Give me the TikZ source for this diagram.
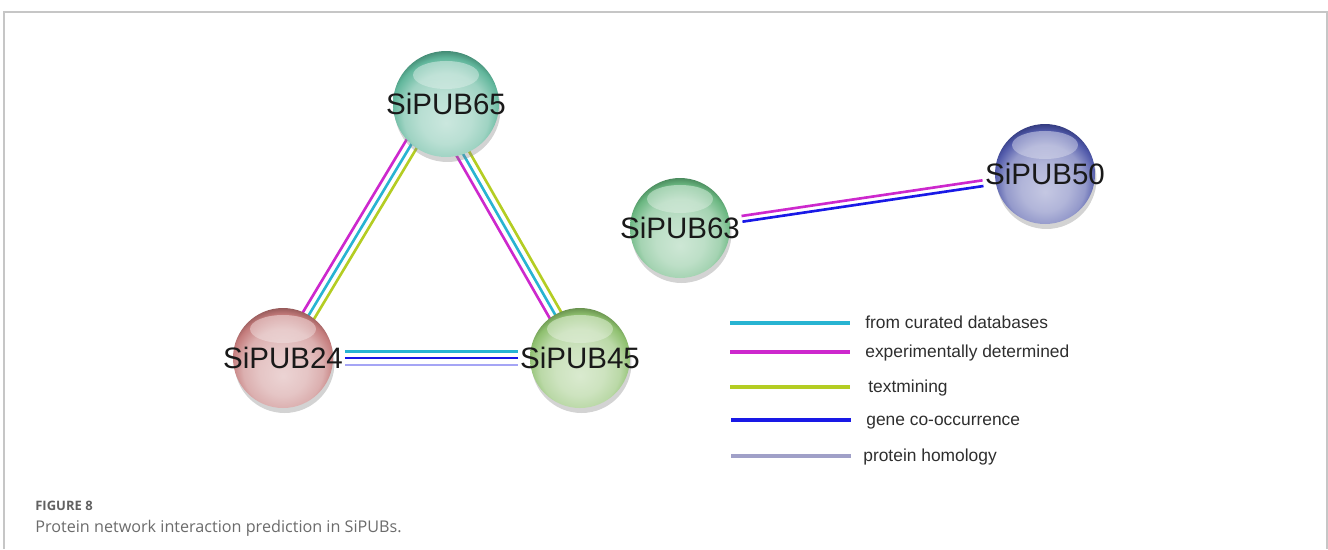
\documentclass[tikz,border=0pt]{standalone}
\usepackage{fontspec}
\setmainfont{Liberation Sans}
\newfontfamily\capfont{Open Sans}
\usetikzlibrary{positioning,shadows,fadings}

\definecolor{curcol}{RGB}{40,180,210}
\definecolor{expcol}{RGB}{205,40,205}
\definecolor{txtcol}{RGB}{180,205,35}
\definecolor{cocol}{RGB}{25,25,230}
\definecolor{homcol}{RGB}{160,160,200}
\definecolor{homedge}{RGB}{165,165,245}
\definecolor{framecol}{RGB}{198,198,198}
\definecolor{col65}{RGB}{80,175,145}
\definecolor{col24}{RGB}{190,110,110}
\definecolor{col45}{RGB}{130,185,95}
\definecolor{col63}{RGB}{90,175,115}
\definecolor{col50}{RGB}{60,70,160}

\makeatletter
\pgfdeclareradialshading[tikz@ball]{pubball}{\pgfqpoint{0bp}{-9bp}}{%
  color(0bp)=(tikz@ball!30!white);
  color(12bp)=(tikz@ball!40!white);
  color(20bp)=(tikz@ball!55!white);
  color(26bp)=(tikz@ball!90!white);
  color(30bp)=(tikz@ball!70!black);
  color(50bp)=(tikz@ball!50!black)}
\makeatother

\pgfdeclarelayer{bg}
\pgfsetlayers{bg,main}

\begin{document}
\begin{tikzpicture}[x=0.02cm, y=-0.02cm, sphere/.style={circle, minimum size=2cm, inner sep=0pt, ball color=#1, shading=pubball, drop shadow={shadow xshift=0.03cm, shadow yshift=-0.1cm, opacity=0.35}, path picture={\fill[white, path fading=south, fill opacity=0.45] ([yshift=0.58cm]path picture bounding box.center) ellipse [x radius=0.66cm, y radius=0.28cm];}}, prot/.style={inner sep=1pt, text=black!90, font=\fontsize{16.8}{18}\selectfont}, link/.style={line width=1.5pt}, legline/.style={line width=2.4pt}, legtext/.style={anchor=base west, inner sep=0pt, text=black!82, font=\fontsize{9.9}{12}\selectfont}, capt/.style={anchor=base west, inner sep=0pt, text=black!58}]

      \useasboundingbox (0,0) rectangle (1328,549);

      \draw[framecol, line width=0.9pt] (4,549) -- (4,12) -- (1327,12) -- (1327,549);

      \node [sphere=col65, minimum size=2.12cm] (s65) at (446,104) {};

      \node [sphere=col24] (s24) at (283,358) {};

      \node [sphere=col45] (s45) at (580,358) {};

      \node [sphere=col63] (s63) at (680,228) {};

      \node [sphere=col50] (s50) at (1045,174) {};

      \node [prot] (l65) at (s65) {SiPUB65};

      \node [prot] (l24) at (s24) {SiPUB24};

      \node [prot] (l45) at (s45) {SiPUB45};

      \node [prot] (l63) at (s63.center) {SiPUB63};

      \node [prot] (l50) at (s50.center) {SiPUB50};

      \coordinate (h65) at (435,105);

      \begin{pgfonlayer}{bg}
        \draw[link, expcol, transform canvas={shift={(-5.6,-3.3)}}] (h65) -- (l24);
        \draw[link, curcol] (h65) -- (l24);
        \draw[link, txtcol, transform canvas={shift={(5.6,3.3)}}] (h65) -- (l24);

        \draw[link, expcol, transform canvas={shift={(-5.6,3.3)}}] (h65) -- (l45);
        \draw[link, curcol] (h65) -- (l45);
        \draw[link, txtcol, transform canvas={shift={(5.6,-3.3)}}] (h65) -- (l45);

        \draw[link, curcol, transform canvas={shift={(0,-6.5)}}] (l24) -- (l45);
        \draw[link, cocol] (l24) -- (l45);
        \draw[link, homedge, transform canvas={shift={(0,7)}}] (l24) -- (l45);

        \draw[link, expcol, transform canvas={shift={(-0.45,-2.85)}}] (l63) -- (l50);
        \draw[link, cocol, transform canvas={shift={(0.45,2.85)}}] (l63) -- (l50);
      \end{pgfonlayer}

      % legend
      \draw[legline, curcol] (730,323) -- (850,323);
      \node [legtext] (k1) at (865,328) {from curated databases};

      \draw[legline, expcol] (730,352) -- (850,352);
      \node [legtext] (k2) at (865,357) {experimentally determined};

      \draw[legline, txtcol] (730,387) -- (850,387);
      \node [legtext] (k3) at (868,392) {textmining};

      \draw[legline, cocol] (731,420) -- (851,420);
      \node [legtext] (k4) at (866,425) {gene co-occurrence};

      \draw[legline, homcol] (731,456) -- (851,456);
      \node [legtext] (k5) at (863,461) {protein homology};

      \node [capt, text=black!62, font=\capfont\bfseries\fontsize{7.4}{9}\selectfont] (fignum) at (35,510) {FIGURE 8};

      \node [capt, font=\capfont\fontsize{9.2}{11}\selectfont] (figcap) at (35,532) {Protein network interaction prediction in SiPUBs.};
    \end{tikzpicture}
\end{document}
